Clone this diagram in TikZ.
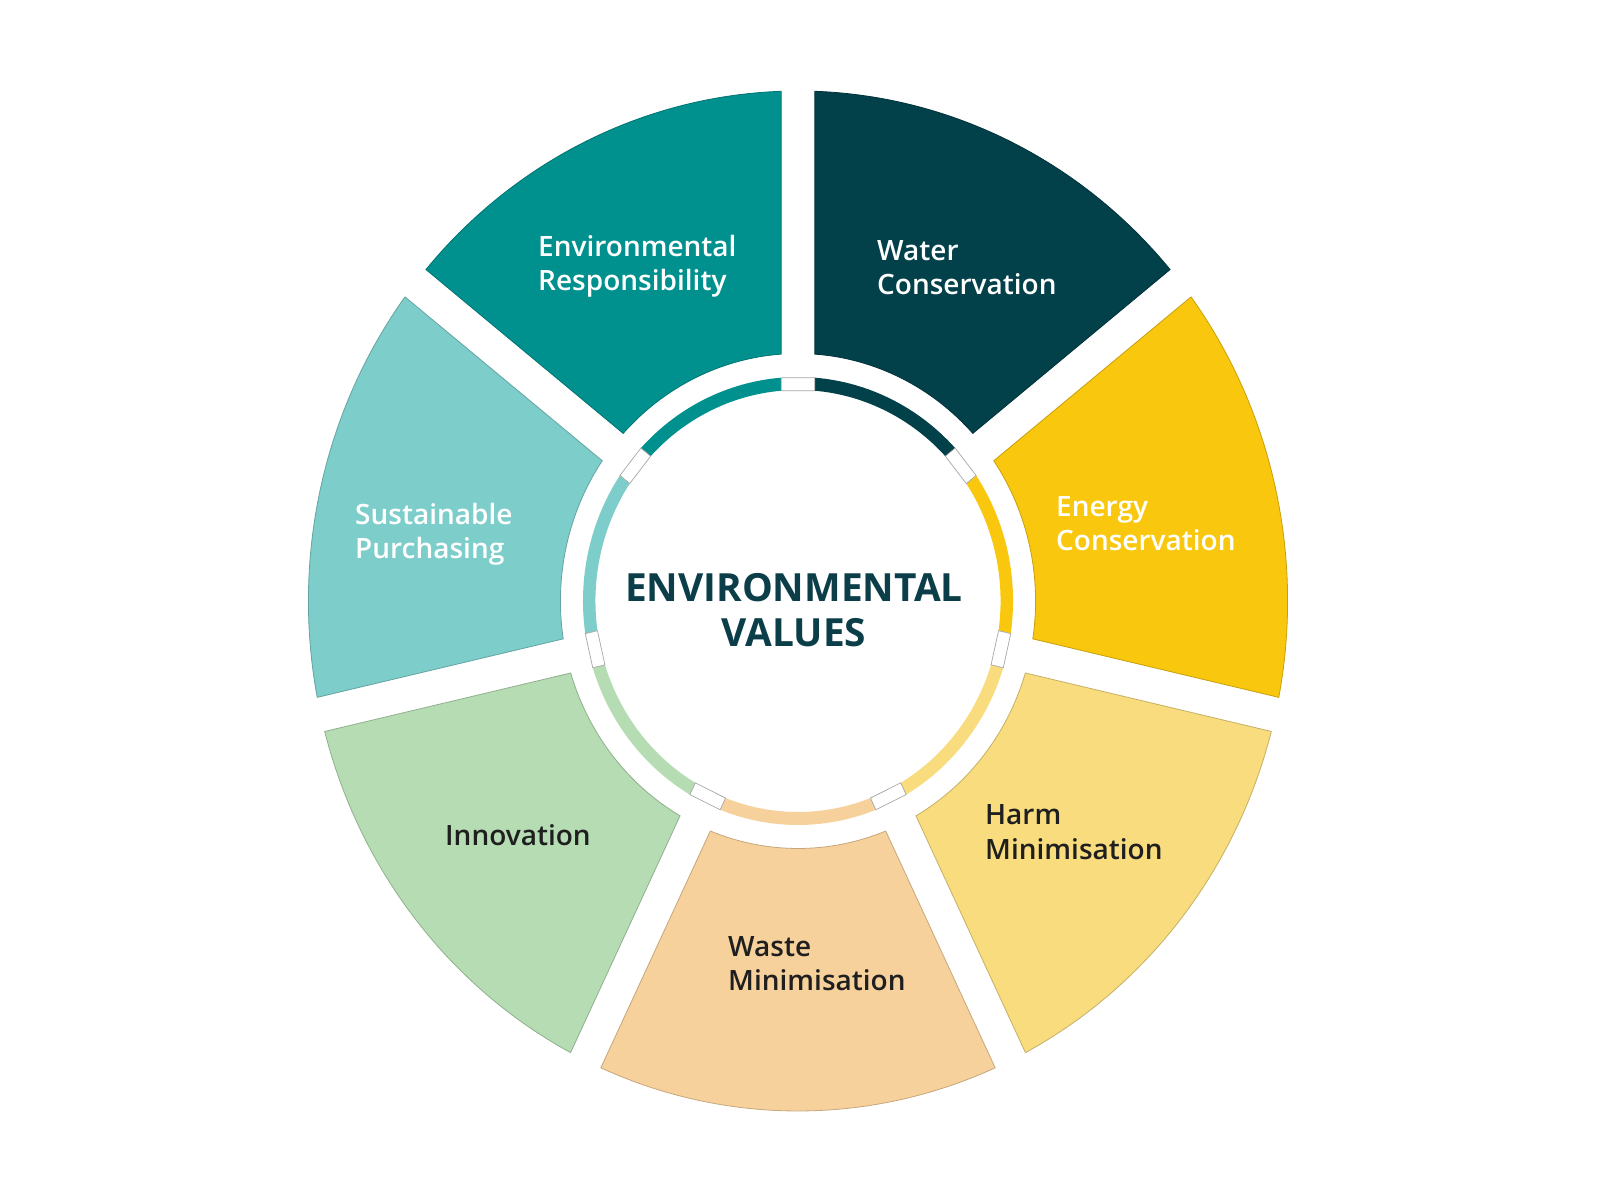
\documentclass[tikz,border=0pt]{standalone}
\usepackage{fontspec}
\setmainfont{Open Sans}
\IfFontExistsTF{Open Sans SemiBold}{\newfontfamily\labelfont{Open Sans SemiBold}}{%
  \IfFontExistsTF{Open Sans Semibold}{\newfontfamily\labelfont{Open Sans Semibold}}{\newfontfamily\labelfont{Open Sans}[FakeBold=1.2]}}
\IfFontExistsTF{Open Sans ExtraBold}{\newfontfamily\titlefont{Open Sans ExtraBold}\def\titlesize{37.4}}{%
  \newfontfamily\titlefont{Open Sans Bold}\def\titlesize{38.8}}
\definecolor{cER}{HTML}{00918F}
\definecolor{cWC}{HTML}{02404A}
\definecolor{cEC}{HTML}{F9C80E}
\definecolor{cHM}{HTML}{F8DC7E}
\definecolor{cWM}{HTML}{F7D19B}
\definecolor{cIN}{HTML}{B5DCB2}
\definecolor{cSP}{HTML}{7DCDCB}
\definecolor{cTitle}{HTML}{0B3E48}
\definecolor{cDark}{HTML}{1F1F1F}
\tikzset{
  lbl/.style={anchor=base west, inner sep=0pt, font=\labelfont\fontsize{28}{34}\selectfont},
  lightlbl/.style={lbl, text=white},
  darklbl/.style={lbl, text=cDark},
  ttl/.style={anchor=base, inner sep=0pt, text=cTitle, font=\titlefont\fontsize{\titlesize}{45}\selectfont},
  gapbox/.style={fill=white, draw=black!35, line width=0.7pt}
}
\begin{document}
\begin{tikzpicture}[x=1pt,y=1pt]
\fill[white] (0,0) rectangle (1600,1200);
\useasboundingbox (0,0) rectangle (1600,1200);
\begin{scope}[shift={(798,599)}, xscale=0.96]
  \foreach \s/\c in {90/cWC, 38.5714/cEC, -12.8571/cHM, -64.2857/cWM, -115.7143/cIN, -167.1429/cSP, -218.5714/cER}{
    \pgfmathsetmacro\e{\s-51.4286}
    \pgfmathsetmacro\ao{\s-1.966}
    \pgfmathsetmacro\bo{\e+1.966}
    \pgfmathsetmacro\ai{\s-4.054}
    \pgfmathsetmacro\bi{\e+4.054}
    \filldraw[fill=\c, draw=\c!80!black, line width=0.8pt, line join=miter]
      (\ao:510pt) arc[start angle=\ao, end angle=\bo, radius=510pt]
      -- (\bi:247.5pt) arc[start angle=\bi, end angle=\ai, radius=247.5pt] -- cycle;
    \pgfmathsetmacro\aa{\s-4.48}
    \pgfmathsetmacro\ba{\e+4.48}
    \pgfmathsetmacro\ab{\s-4.76}
    \pgfmathsetmacro\bb{\e+4.76}
    \fill[\c]
      (\aa:224pt) arc[start angle=\aa, end angle=\ba, radius=224pt]
      -- (\bb:211pt) arc[start angle=\bb, end angle=\ab, radius=211pt] -- cycle;
  }
  \foreach \s in {90, 38.5714, -12.8571, -64.2857, -115.7143, -167.1429, -218.5714}{
    \pgfmathsetmacro\pa{\s-4.48}
    \pgfmathsetmacro\qa{\s+4.48}
    \pgfmathsetmacro\pb{\s-4.76}
    \pgfmathsetmacro\qb{\s+4.76}
    \filldraw[gapbox] (\pa:224pt) -- (\qa:224pt) -- (\qb:211pt) -- (\pb:211pt) -- cycle;
  }
\end{scope}
% labels
\node[lightlbl] (er1) at (538,943) {Environmental};
\node[lightlbl] (er2) at (538,909) {Responsibility};
\node[lightlbl] (wc1) at (877,939) {Water};
\node[lightlbl] (wc2) at (877,905) {Conservation};
\node[lightlbl] (ec1) at (1056,683) {Energy};
\node[lightlbl] (ec2) at (1056,649) {Conservation};
\node[darklbl] (hm1) at (985,375) {Harm};
\node[darklbl] (hm2) at (985,341) {Minimisation};
\node[darklbl] (wm1) at (728,244) {Waste};
\node[darklbl] (wm2) at (728,210) {Minimisation};
\node[darklbl] (in1) at (445,354) {Innovation};
\node[lightlbl] (sp1) at (355,675) {Sustainable};
\node[lightlbl] (sp2) at (355,641) {Purchasing};
\node[ttl] (t1) at (794,598.3) {ENVIRONMENTAL};
\node[ttl] (t2) at (794,553.3) {VALUES};
\end{tikzpicture}
\end{document}
